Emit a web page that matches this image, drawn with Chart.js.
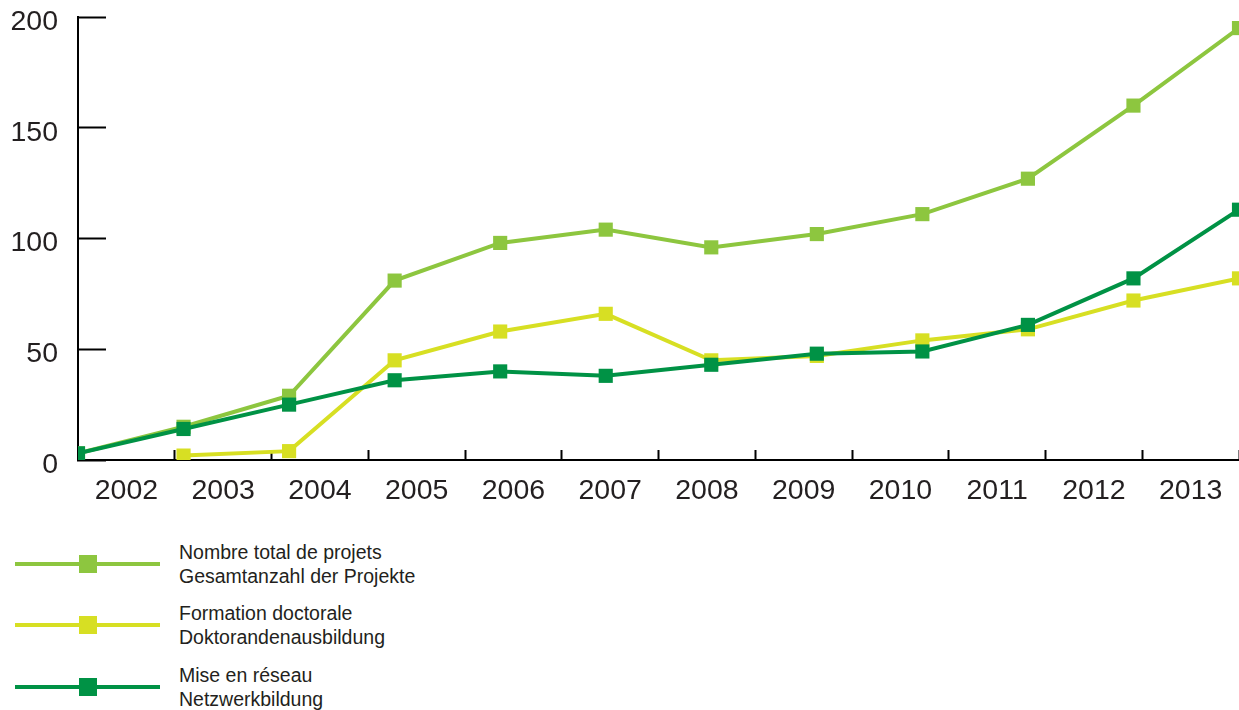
<!DOCTYPE html>
<html>
<head>
<meta charset="utf-8">
<script src="https://cdn.jsdelivr.net/npm/chart.js@4/dist/chart.umd.min.js"></script>
<style>
    html, body { margin: 0; padding: 0; background: #fff; }
    body { width: 1239px; height: 710px; position: relative; overflow: hidden; font-family: "Liberation Sans", Arial, sans-serif; color: #231f20; }
    #wrap { position: absolute; left: 0; top: 0; width: 1239px; height: 520px; }
    .leg-line { position: absolute; left: 15px; width: 145px; height: 4px; }
    .leg-mark { position: absolute; left: 79px; width: 18px; height: 18px; }
    .leg-text { position: absolute; left: 179px; font-size: 19.5px; line-height: 24px; white-space: nowrap; }
</style>
</head>
<body>
<div id="wrap"><canvas id="chart"></canvas></div>
<div id="legend"></div>
<script>
const years = ["2002", "2003", "2004", "2005", "2006", "2007", "2008", "2009", "2010", "2011", "2012", "2013"];
const totalProjects = [3, 15, 29, 81, 98, 104, 96, 102, 111, 127, 160, 195];
const doctoral = [null, 2, 4, 45, 58, 66, 45, 47, 54, 59, 72, 82];
const network = [3, 14, 25, 36, 40, 38, 43, 48, 49, 61, 82, 113];
const yTicks = [0, 50, 100, 150, 200];

const series = [
    { name: ["Nombre total de projets", "Gesamtanzahl der Projekte"], values: totalProjects, color: "#8dc63f", order: 2 },
    { name: ["Formation doctorale", "Doktorandenausbildung"], values: doctoral, color: "#d7df23", order: 1 },
    { name: ["Mise en réseau", "Netzwerkbildung"], values: network, color: "#009245", order: 0 }
];

function toPoints(values) {
    return values.map((v, i) => ({ x: i, y: v }));
}

const datasets = series.map(s => ({
    label: s.name.join(" / "),
    data: toPoints(s.values),
    xAxisID: "x",
    yAxisID: "y",
    borderColor: s.color,
    backgroundColor: s.color,
    borderWidth: 4,
    pointStyle: "rect",
    pointRadius: 10,
    pointBorderWidth: 0,
    pointBackgroundColor: s.color,
    tension: 0,
    order: s.order
}));

const axisFont = { family: "'Liberation Sans', Arial, sans-serif", size: 28.5 };

new Chart(document.getElementById("chart"), {
    type: "line",
    data: { datasets },
    options: {
        responsive: true,
        maintainAspectRatio: false,
        animation: false,
        layout: { autoPadding: false, padding: { top: 17, right: 0, left: 0, bottom: 0 } },
        plugins: { legend: { display: false }, tooltip: { enabled: false } },
        scales: {
            x: {
                type: "linear",
                display: false,
                min: 0,
                max: years.length - 1
            },
            x2: {
                type: "category",
                position: "bottom",
                labels: years,
                offset: true,
                border: { display: true, color: "#000", width: 2 },
                grid: {
                    offset: true,
                    drawOnChartArea: false,
                    drawTicks: true,
                    tickLength: -10,
                    tickWidth: 2,
                    tickColor: "#000"
                },
                ticks: {
                    color: "#231f20",
                    font: axisFont,
                    padding: 24,
                    maxRotation: 0,
                    autoSkip: false
                },
                afterFit(scale) {
                    scale.height = 60;
                    scale.paddingLeft = 0;
                    scale.paddingRight = 0;
                }
            },
            y: {
                type: "linear",
                min: 0,
                max: 200,
                afterBuildTicks(scale) { scale.ticks = yTicks.map(v => ({ value: v })); },
                border: { display: true, color: "#000", width: 2 },
                grid: {
                    drawOnChartArea: false,
                    drawTicks: true,
                    tickLength: -28,
                    tickWidth: 2,
                    tickColor: "#000"
                },
                ticks: {
                    color: "#231f20",
                    font: axisFont,
                    padding: 48,
                    labelOffset: 5
                },
                afterFit(scale) {
                    scale.width = 78;
                    scale.paddingTop = 0;
                    scale.paddingBottom = 0;
                }
            }
        }
    }
});

// legend below the chart
const legendTops = [540, 601, 663];
let html = "";
series.forEach((s, i) => {
    const t = legendTops[i];
    html += `
    <div class="leg-line" style="top:${t + 22}px;background:${s.color}"></div>
    <div class="leg-mark" style="top:${t + 15}px;background:${s.color}"></div>
    <div class="leg-text" style="top:${t}px">${s.name[0]}<br>${s.name[1]}</div>`;
});
document.getElementById("legend").innerHTML = html;
</script>
</body>
</html>
